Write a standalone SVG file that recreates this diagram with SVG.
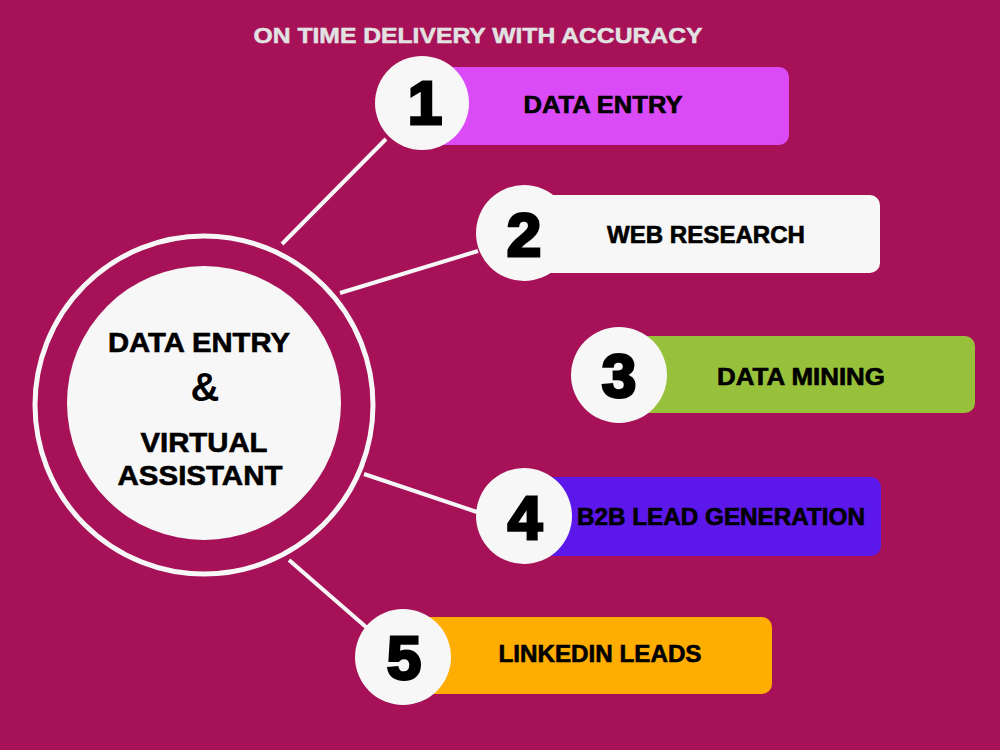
<svg xmlns="http://www.w3.org/2000/svg" width="1000" height="750" viewBox="0 0 1000 750">
<style>
.t{font-family:"Liberation Sans",Arial,sans-serif;font-weight:bold;fill:#000}
.num{font-family:"Liberation Sans",Arial,sans-serif;font-weight:bold;fill:#000;stroke:#000;stroke-width:3;font-size:62px;text-anchor:middle}
.lbl{font-size:23px;stroke:#000;stroke-width:0.6}
.bub{fill:#F7F7F7}
.con{stroke:#F7F7F7;stroke-width:4;fill:none}
</style>
<rect width="1000" height="750" fill="#A61157"/>
<text x="478" y="43" class="t" style="fill:#E2E2E2;font-size:22px;stroke:#E2E2E2;stroke-width:0.5" text-anchor="middle" textLength="449" lengthAdjust="spacingAndGlyphs">ON TIME DELIVERY WITH ACCURACY</text>
<g id="connectors">
<line class="con" x1="282" y1="244" x2="386" y2="139"/>
<line class="con" x1="340" y1="293" x2="478" y2="251"/>
<line class="con" x1="364" y1="474" x2="477" y2="512"/>
<line class="con" x1="289" y1="560" x2="366" y2="627"/>
</g>
<g id="center">
<circle cx="204" cy="405" r="169" fill="none" stroke="#F7F7F7" stroke-width="5"/>
<circle class="bub" cx="204" cy="403" r="137"/>
<text class="t" x="199" y="352" style="font-size:27px;stroke:#000;stroke-width:0.6" text-anchor="middle" textLength="182" lengthAdjust="spacingAndGlyphs">DATA ENTRY</text>
<text class="t" x="205" y="401" style="font-size:40px" text-anchor="middle">&amp;</text>
<text class="t" x="204" y="452" style="font-size:27px;stroke:#000;stroke-width:0.6" text-anchor="middle" textLength="127" lengthAdjust="spacingAndGlyphs">VIRTUAL</text>
<text class="t" x="200" y="485" style="font-size:27px;stroke:#000;stroke-width:0.6" text-anchor="middle" textLength="165" lengthAdjust="spacingAndGlyphs">ASSISTANT</text>
</g>
<g id="item1">
<rect x="425" y="67" width="364" height="78" rx="10" fill="#DA4BF7"/>
<circle class="bub" cx="422" cy="103" r="47"/>
<text class="num" x="425" y="124">1</text>
<text class="t lbl" x="603" y="113" text-anchor="middle" textLength="159" lengthAdjust="spacingAndGlyphs">DATA ENTRY</text>
</g>
<g id="item2">
<rect x="525" y="195" width="355" height="78" rx="10" fill="#F7F7F7"/>
<circle class="bub" cx="524" cy="233" r="48"/>
<text class="num" x="524" y="256">2</text>
<text class="t lbl" x="706" y="243" text-anchor="middle" textLength="198" lengthAdjust="spacingAndGlyphs">WEB RESEARCH</text>
</g>
<g id="item3">
<rect x="620" y="336" width="355" height="77" rx="10" fill="#97C03B"/>
<circle class="bub" cx="619" cy="375" r="48"/>
<text class="num" x="619" y="397">3</text>
<text class="t lbl" x="801" y="385" text-anchor="middle" textLength="168" lengthAdjust="spacingAndGlyphs">DATA MINING</text>
</g>
<g id="item4">
<rect x="525" y="477" width="356" height="79" rx="10" fill="#5C17EA"/>
<circle class="bub" cx="524" cy="516" r="48"/>
<text class="num" x="525" y="539">4</text>
<text class="t lbl" x="721" y="525" text-anchor="middle" textLength="288" lengthAdjust="spacingAndGlyphs">B2B LEAD GENERATION</text>
</g>
<g id="item5">
<rect x="405" y="617" width="367" height="77" rx="10" fill="#FFAD00"/>
<circle class="bub" cx="403" cy="657" r="48"/>
<text class="num" x="404" y="679">5</text>
<text class="t lbl" x="600" y="662" text-anchor="middle" textLength="203" lengthAdjust="spacingAndGlyphs">LINKEDIN LEADS</text>
</g>
</svg>
